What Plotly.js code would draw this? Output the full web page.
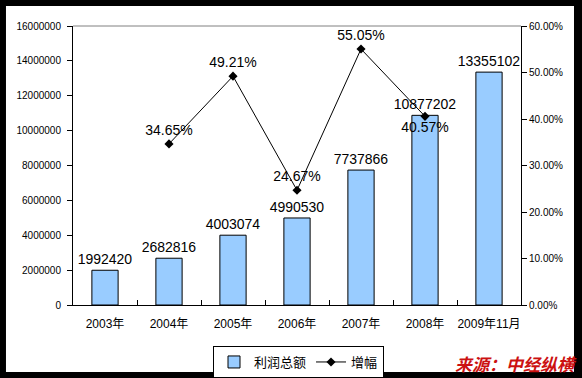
<!DOCTYPE html>
<html>
<head>
<meta charset="utf-8">
<script src="https://cdn.plot.ly/plotly-3.0.1.min.js"></script>
<style>
html,body{margin:0;padding:0;background:#000;}
#chart{width:582px;height:378px;}
</style>
</head>
<body>
<div id="chart"></div>
<script>
const categories = ['2003年','2004年','2005年','2006年','2007年','2008年','2009年11月'];
const profitTotal = [1992420, 2682816, 4003074, 4990530, 7737866, 10877202, 13355102];
const growthRate = [null, 0.3465, 0.4921, 0.2467, 0.5505, 0.4057, null];
const growthLabels = ['', '34.65%', '49.21%', '24.67%', '55.05%', '40.57%', ''];
const growthLabelPos = ['top center','top center','top center','top center','top center','bottom center','top center'];
const seriesNames = ['利润总额', '增幅'];
const leftTicks = [0, 2000000, 4000000, 6000000, 8000000, 10000000, 12000000, 14000000, 16000000];
const rightTicks = [0, 0.1, 0.2, 0.3, 0.4, 0.5, 0.6];

const FONT = 'Liberation Sans, Arial, Noto Sans CJK SC, sans-serif';

const traces = [
  {
    type: 'bar',
    name: seriesNames[0],
    x: categories,
    y: profitTotal,
    text: profitTotal.map(v => String(v)),
    textposition: 'outside',
    constraintext: 'none',
    cliponaxis: false,
    textfont: {family: FONT, size: 14, color: '#000'},
    marker: {color: '#99CCFF', line: {color: '#000', width: 1}},
    hoverinfo: 'skip'
  },
  {
    type: 'scatter',
    mode: 'lines+markers+text',
    name: seriesNames[1],
    x: categories,
    y: growthRate,
    yaxis: 'y2',
    text: growthLabels,
    textposition: growthLabelPos,
    cliponaxis: false,
    textfont: {family: FONT, size: 14, color: '#000'},
    line: {color: '#000', width: 1},
    marker: {symbol: 'diamond', size: 7, color: '#000'},
    connectgaps: false,
    hoverinfo: 'skip'
  }
];

const layout = {
  width: 582,
  height: 378,
  margin: {l: 73, r: 61, t: 26, b: 73, pad: 0, autoexpand: false},
  paper_bgcolor: '#000',
  plot_bgcolor: '#fff',
  font: {family: FONT, color: '#000'},
  showlegend: true,
  bargap: 0.59,
  xaxis: {
    type: 'category',
    showgrid: false,
    showline: true,
    linecolor: '#000',
    linewidth: 1,
    ticks: 'inside',
    tickson: 'boundaries',
    ticklen: 5,
    tickcolor: '#000',
    tickangle: 0,
    ticklabelstandoff: 8,
    tickfont: {family: FONT, size: 12, color: '#000'},
    zeroline: false,
    automargin: false,
    fixedrange: true
  },
  yaxis: {
    range: [0, 16000000],
    tickvals: leftTicks,
    ticktext: leftTicks.map(v => String(v)),
    showgrid: false,
    zeroline: false,
    showline: true,
    linecolor: '#000',
    linewidth: 1,
    ticks: 'outside',
    ticklen: 5,
    tickcolor: '#000',
    ticklabelstandoff: 4,
    tickfont: {family: FONT, size: 10, color: '#000'},
    automargin: false,
    fixedrange: true
  },
  yaxis2: {
    overlaying: 'y',
    side: 'right',
    range: [0, 0.6],
    tickvals: rightTicks,
    ticktext: rightTicks.map(v => (v * 100).toFixed(2) + '%'),
    showgrid: false,
    zeroline: false,
    showline: true,
    linecolor: '#000',
    linewidth: 1,
    ticks: 'outside',
    ticklen: 5,
    tickcolor: '#000',
    tickfont: {family: FONT, size: 10, color: '#000'},
    automargin: false,
    fixedrange: true
  },
  legend: {
    orientation: 'h',
    x: 0.3125,
    xanchor: 'left',
    y: -0.147,
    yanchor: 'top',
    bgcolor: '#fff',
    bordercolor: '#000',
    borderwidth: 1,
    font: {family: FONT, size: 13, color: '#000'},
    itemwidth: 30,
    tracegroupgap: 0
  },
  shapes: [
    {
      type: 'rect', xref: 'paper', yref: 'paper', layer: 'below',
      x0: -0.1496, x1: 1.1183, y0: -0.2401, y1: 1.0717,
      fillcolor: '#fff', line: {width: 0}
    },
    {
      type: 'line', xref: 'paper', yref: 'paper',
      x0: 0, x1: 1, y0: 1, y1: 1,
      line: {color: '#808080', width: 1}
    }
  ],
  annotations: [
    {
      xref: 'paper', yref: 'paper',
      x: 0.989, y: -0.21,
      xanchor: 'center', yanchor: 'middle',
      showarrow: false,
      text: '<b><i>来源：中经纵横</i></b>',
      font: {family: 'Noto Sans CJK SC, sans-serif', size: 17, color: '#CC1111'}
    }
  ]
};

Plotly.newPlot('chart', traces, layout, {displayModeBar: false, staticPlot: true});
</script>
</body>
</html>
